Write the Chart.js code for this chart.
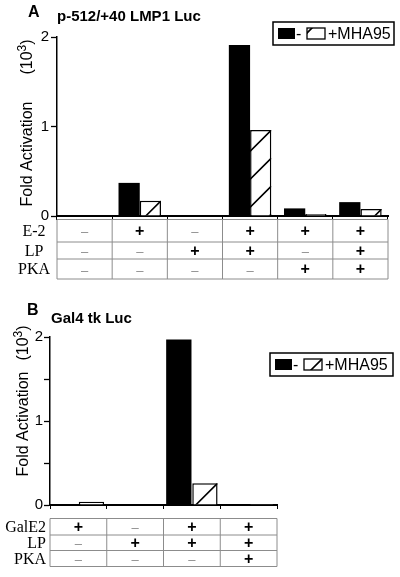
<!DOCTYPE html>
<html>
<head>
<meta charset="utf-8">
<script src="https://cdn.jsdelivr.net/npm/chart.js@4.4.0/dist/chart.umd.min.js"></script>
<style>
  body { margin: 0; background: #fff; }
  canvas { display: block; }
</style>
</head>
<body>
<canvas id="panelA" width="400" height="290"></canvas>
<canvas id="panelB" width="400" height="287"></canvas>
<script>
// fold activation, in units of 10^3
var groupsA = ['1', '2', '3', '4', '5', '6'];
var minusA = [0, 0.37, 0.008, 1.91, 0.085, 0.155];
var mhaA = [0, 0.17, 0, 0.96, 0.022, 0.078];
var rowsA = ['E-2', 'LP', 'PKA'];
var e2A = ['-', '+', '-', '+', '+', '+'];
var lpA = ['-', '-', '+', '+', '-', '+'];
var pkaA = ['-', '-', '-', '-', '+', '+'];

var groupsB = ['1', '2', '3', '4'];
var minusB = [0.012, 0.012, 1.97, 0.012];
var mhaB = [0.04, 0, 0.26, 0.012];
var rowsB = ['GalE2', 'LP', 'PKA'];
var gale2B = ['+', '-', '+', '+'];
var lpB = ['-', '+', '+', '+'];
var pkaB = ['-', '-', '-', '+'];

var seriesLabels = ['-', '+MHA95'];
var yTitle = 'Fold Activation';
var yUnit = ['(10', '3', ')'];

var sans = '"Liberation Sans", Arial, sans-serif';
var serif = '"Liberation Serif", "Times New Roman", serif';

function drawHatch(ctx, l, t, r, b, offset) {
  ctx.save();
  ctx.beginPath();
  ctx.rect(l, t, r - l, b - t);
  ctx.clip();
  ctx.strokeStyle = '#000';
  ctx.lineWidth = 1.6;
  ctx.beginPath();
  for (var y0 = t + offset - 280; y0 < b; y0 += 28) {
    ctx.moveTo(r, y0);
    ctx.lineTo(r - 400, y0 + 400);
  }
  ctx.stroke();
  ctx.restore();
}

// "(10" + superscript "3" + ")", centred on 0,0 in the current (rotated) frame
function drawUnit(ctx) {
  var big = '16px ' + sans, small = '12px ' + sans;
  ctx.font = big;
  var w1 = ctx.measureText(yUnit[0]).width, w3 = ctx.measureText(yUnit[2]).width;
  ctx.font = small;
  var w2 = ctx.measureText(yUnit[1]).width;
  var x = -(w1 + w2 + w3) / 2;
  ctx.textAlign = 'left';
  ctx.font = big;
  ctx.fillText(yUnit[0], x, 0);
  ctx.font = small;
  ctx.fillText(yUnit[1], x + w1, -6);
  ctx.font = big;
  ctx.fillText(yUnit[2], x + w1 + w2, 0);
}

function panelPlugin(spec) {
  return {
    id: 'panel' + spec.letter,
    afterDatasetsDraw: function(chart) {
      var ctx = chart.ctx;
      chart.data.datasets.forEach(function(ds, di) {
        if (!ds.hatch) return;
        chart.getDatasetMeta(di).data.forEach(function(bar) {
          var p = bar.getProps(['x', 'y', 'base', 'width'], true);
          var t = Math.min(p.y, p.base), b = Math.max(p.y, p.base);
          if (b - t < 4) return;
          drawHatch(ctx, p.x - p.width / 2, t, p.x + p.width / 2, b, 0);
        });
      });
    },
    afterDraw: function(chart) {
      var ctx = chart.ctx;
      var xs = chart.scales.x;
      ctx.save();

      // panel letter and title
      ctx.fillStyle = '#000';
      ctx.textBaseline = 'alphabetic';
      ctx.textAlign = 'left';
      ctx.font = 'bold 16px ' + sans;
      ctx.fillText(spec.letter, spec.letterPos[0], spec.letterPos[1]);
      ctx.font = 'bold 15px ' + sans;
      ctx.fillText(spec.title, spec.titlePos[0], spec.titlePos[1]);

      // y axis title
      ctx.save();
      ctx.translate(spec.yTitlePos[0], spec.yTitlePos[1]);
      ctx.rotate(-Math.PI / 2);
      ctx.font = '16px ' + sans;
      ctx.textAlign = 'center';
      ctx.fillText(yTitle, 0, 0);
      ctx.restore();
      ctx.save();
      ctx.translate(spec.yTitlePos[0], spec.yTitlePos[2]);
      ctx.rotate(-Math.PI / 2);
      drawUnit(ctx);
      ctx.restore();

      // legend box
      var L = spec.legend;
      var ds = chart.data.datasets;
      ctx.lineWidth = 1.5;
      ctx.strokeStyle = '#000';
      ctx.strokeRect(L.x, L.y, L.w, L.h);
      var sy = L.y + (L.h - 11) / 2;
      ctx.fillStyle = ds[0].backgroundColor;
      ctx.fillRect(L.x + 5, sy, 17, 11);
      ctx.fillStyle = '#000';
      ctx.font = '16px ' + sans;
      ctx.textAlign = 'left';
      ctx.textBaseline = 'middle';
      ctx.fillText(ds[0].label, L.x + 23, L.y + L.h / 2 + 1);
      ctx.lineWidth = 1.3;
      ctx.strokeRect(L.x + 34, sy, 18, 11);
      drawHatch(ctx, L.x + 34, sy, L.x + 52, sy + 11, L.hatchOffset);
      ctx.fillText(ds[1].label, L.x + 55, L.y + L.h / 2 + 1);

      // condition table under the categories
      var n = chart.data.labels.length;
      var half = (xs.getPixelForValue(1) - xs.getPixelForValue(0)) / 2;
      var x0 = xs.getPixelForValue(0) - half;
      var xn = xs.getPixelForValue(n - 1) + half;
      var ys = spec.rowEdges;
      ctx.strokeStyle = '#8c8c8c';
      ctx.lineWidth = 1;
      ctx.beginPath();
      ys.forEach(function(y) { ctx.moveTo(x0, y); ctx.lineTo(xn, y); });
      for (var i = 0; i <= n; i++) {
        var ex = x0 + i * 2 * half;
        ctx.moveTo(ex, ys[0]);
        ctx.lineTo(ex, ys[ys.length - 1]);
      }
      ctx.stroke();

      ctx.textBaseline = 'middle';
      spec.rows.forEach(function(row, ri) {
        var cy = (ys[ri] + ys[ri + 1]) / 2;
        ctx.fillStyle = '#000';
        ctx.font = '16px ' + serif;
        ctx.textAlign = spec.labelAlign;
        ctx.fillText(row.label, spec.labelX, cy + 1);
        ctx.textAlign = 'center';
        row.signs.forEach(function(s, ci) {
          var cx = xs.getPixelForValue(ci);
          if (s === '+') {
            ctx.fillStyle = '#000';
            ctx.font = 'bold 16px ' + sans;
            ctx.fillText('+', cx, cy + 1);
          } else {
            ctx.fillStyle = '#8a8a8a';
            ctx.font = '13px ' + sans;
            ctx.fillText('\u2013', cx, cy + 2);
          }
        });
      });
      ctx.restore();
    }
  };
}

function makeChart(id, cfg) {
  return new Chart(document.getElementById(id), {
    type: 'bar',
    data: {
      labels: cfg.groups,
      datasets: [
        {
          label: seriesLabels[0],
          data: cfg.minus,
          backgroundColor: '#000',
          borderWidth: 0,
          categoryPercentage: cfg.catPct,
          barPercentage: cfg.barPct
        }, {
          label: seriesLabels[1],
          data: cfg.mha,
          backgroundColor: '#fff',
          borderColor: '#000',
          borderWidth: 1.5,
          hatch: true,
          categoryPercentage: cfg.catPct,
          barPercentage: cfg.barPct
        }
      ]
    },
    options: {
      responsive: false,
      animation: false,
      events: [],
      layout: { padding: cfg.padding },
      plugins: { legend: { display: false }, tooltip: { enabled: false } },
      scales: {
        x: {
          ticks: { display: false },
          grid: { drawOnChartArea: false, offset: true, tickLength: 4, color: '#000', tickWidth: 1 },
          border: { color: '#000', width: 2 },
          afterFit: function(s) { s.height = 4; }
        },
        y: {
          min: 0,
          max: 2,
          ticks: {
            stepSize: cfg.step,
            padding: cfg.tickPad,
            color: '#000',
            font: { family: sans, size: 15 },
            callback: function(v) { return v % 1 === 0 ? v : ''; }
          },
          grid: { drawOnChartArea: false, tickLength: cfg.tickLen, color: '#000', tickWidth: 1.3 },
          border: { color: '#000', width: 1.5 },
          afterFit: function(s) { s.width = cfg.axisX; }
        }
      }
    },
    plugins: [panelPlugin(cfg.panel)]
  });
}

makeChart('panelA', {
  groups: groupsA, minus: minusA, mha: mhaA,
  catPct: 0.77, barPct: 1, step: 1, tickPad: 2, tickLen: 6, axisX: 57,
  padding: { top: 37, right: 12, bottom: 70, left: 0 },
  panel: {
    letter: 'A', letterPos: [28, 17],
    title: 'p-512/+40 LMP1 Luc', titlePos: [57, 21],
    yTitlePos: [32, 154, 57],
    legend: { x: 273, y: 22, w: 121, h: 23, hatchOffset: -13 },
    rowEdges: [219.5, 242, 259, 279],
    labelX: 34, labelAlign: 'center',
    rows: [
      { label: rowsA[0], signs: e2A },
      { label: rowsA[1], signs: lpA },
      { label: rowsA[2], signs: pkaA }
    ]
  }
});

makeChart('panelB', {
  groups: groupsB, minus: minusB, mha: mhaB,
  catPct: 0.92, barPct: 0.97, step: 0.5, tickPad: 1, tickLen: 6, axisX: 50,
  padding: { top: 47, right: 123, bottom: 68, left: 0 },
  panel: {
    letter: 'B', letterPos: [27, 25],
    title: 'Gal4 tk Luc', titlePos: [51, 33],
    yTitlePos: [28, 134, 53],
    legend: { x: 270, y: 63, w: 123, h: 23, hatchOffset: 0 },
    rowEdges: [228.5, 245, 260.5, 276.5],
    labelX: 46, labelAlign: 'right',
    rows: [
      { label: rowsB[0], signs: gale2B },
      { label: rowsB[1], signs: lpB },
      { label: rowsB[2], signs: pkaB }
    ]
  }
});
</script>
</body>
</html>
